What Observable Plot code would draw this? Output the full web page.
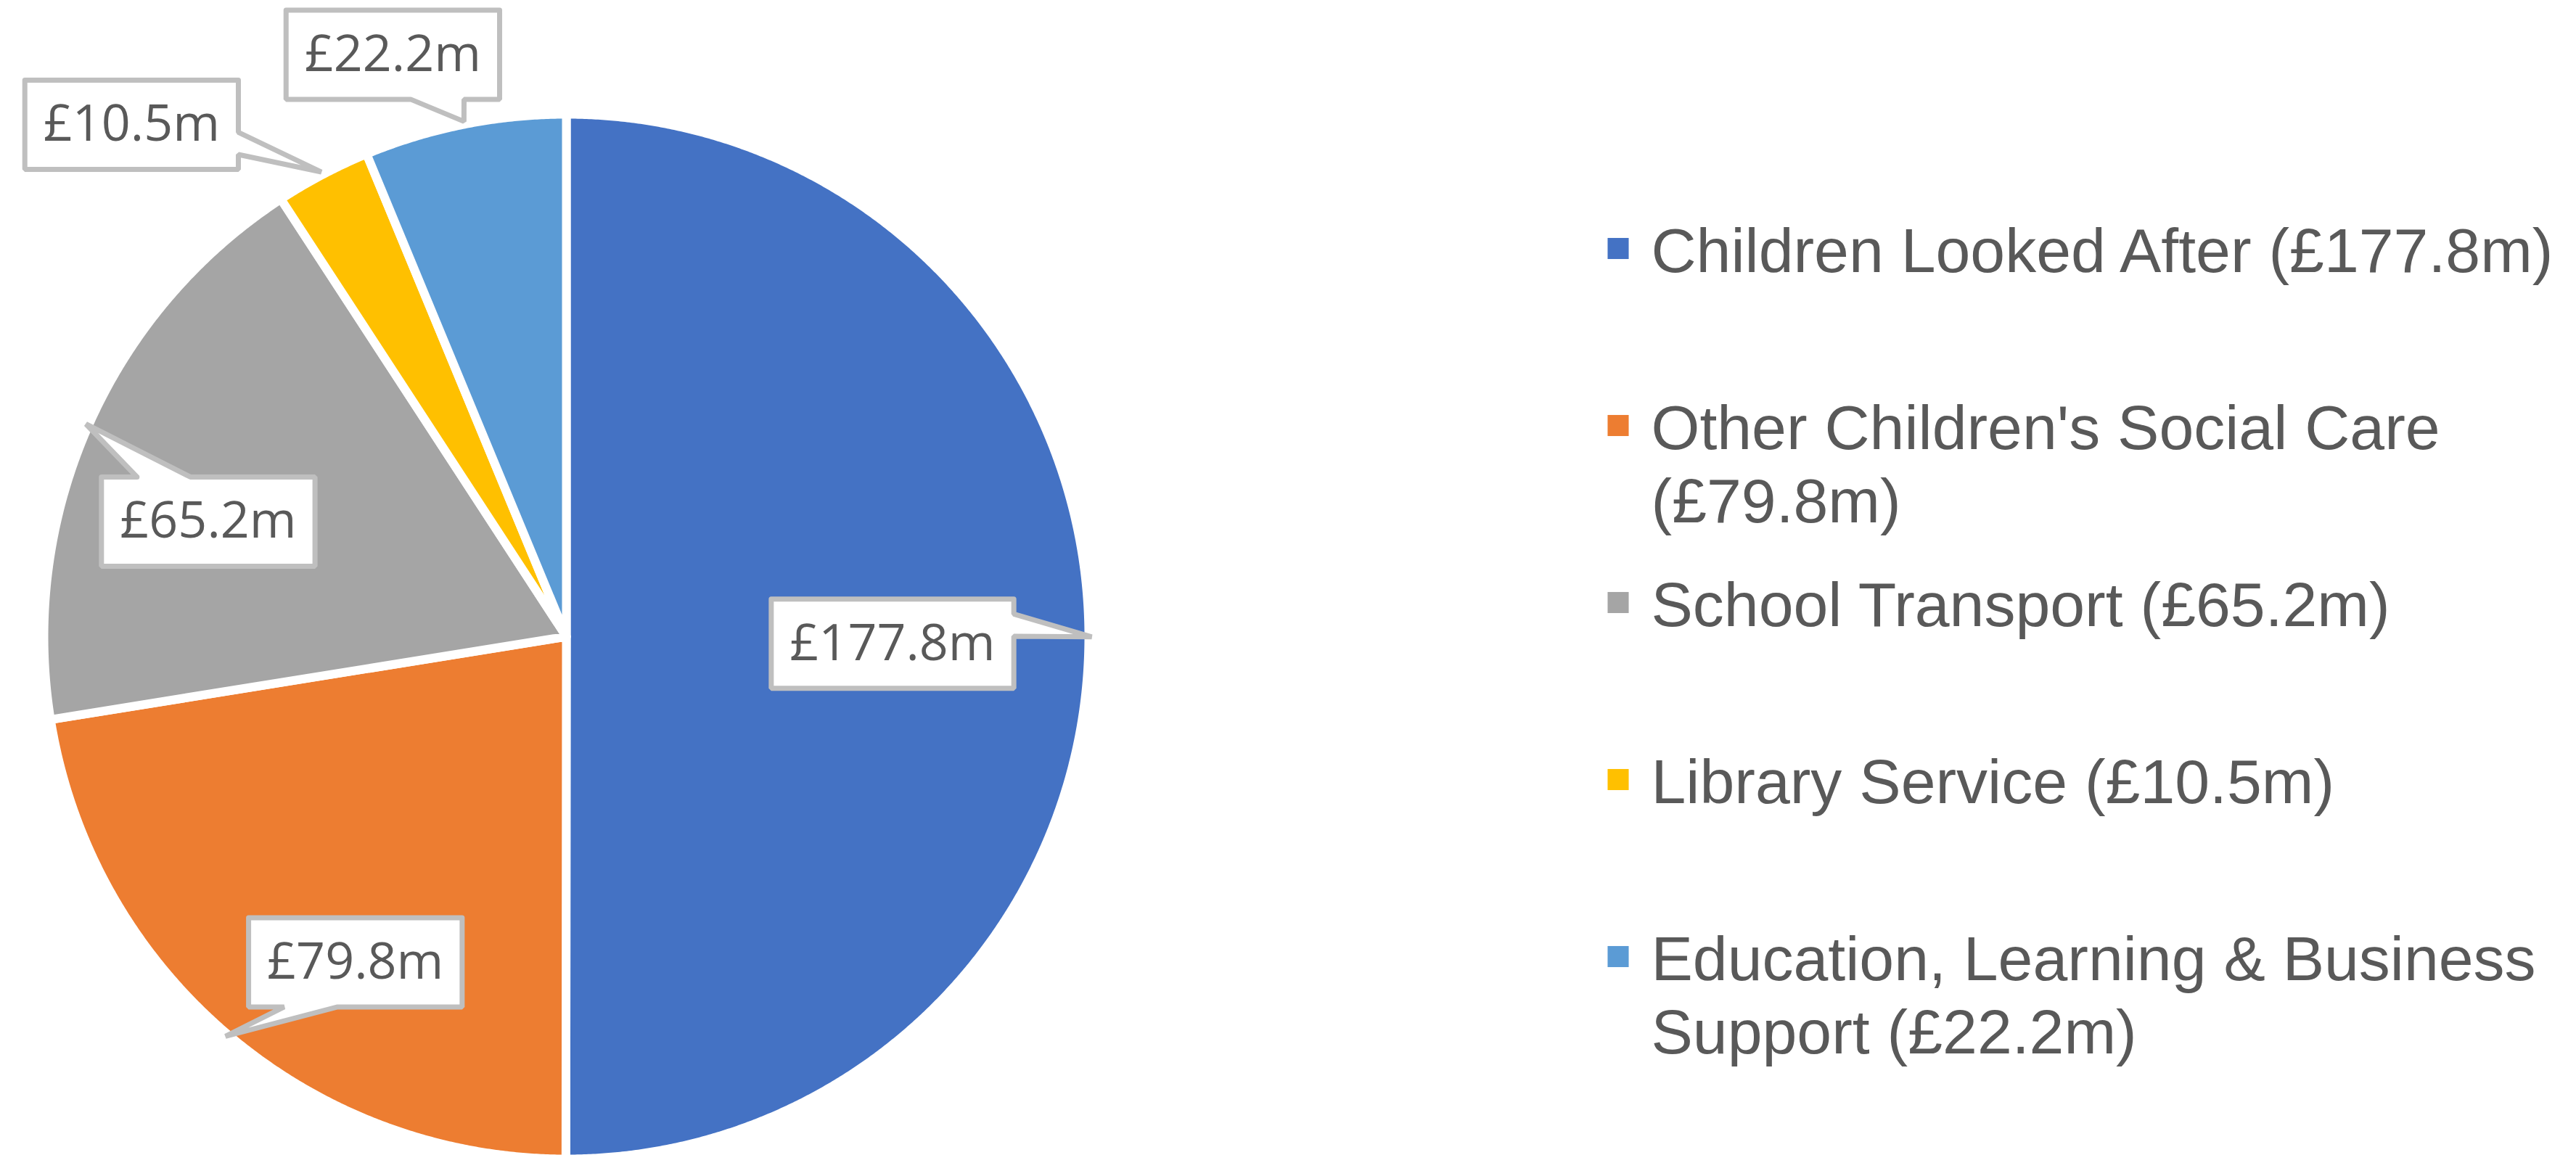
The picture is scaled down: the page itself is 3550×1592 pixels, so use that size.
<!DOCTYPE html>
<html><head><meta charset="utf-8">
<script src="https://cdn.jsdelivr.net/npm/d3@7"></script>
<script src="https://cdn.jsdelivr.net/npm/@observablehq/plot@0.6"></script>
<style>
html,body{margin:0;padding:0;background:#fff;}
#chart{display:flex;width:3550px;height:1592px;overflow:hidden;}
#chart svg{display:block;flex:none;}
</style></head><body><div id="chart"></div>
<script>
// ---- data ----
const categories = ["Children Looked After", "Other Children's Social Care", "School Transport", "Library Service", "Education, Learning & Business Support"];
const values = [177.8, 79.8, 65.2, 10.5, 22.2];
const colors = ["#4472C4", "#ED7D31", "#A5A5A5", "#FFC000", "#5B9BD5"];

// ---- layout (not data) ----
const W = 3550, H = 1592, pieW = 2150;
const cx = 780, cy = 877, R = 720, tipR = 724;
const calloutOffsets = [[-274.5, 9.5], [179, -102], [168.5, 134.5], [-261.5, -65], [-98, -92]];
const labelFont = "'Open Sans'", legendFont = "'Liberation Sans', Arial";
const fmt = v => `£${v.toFixed(1)}m`;

const table = categories.map((c, i) => ({category: c, value: values[i]}));
const arcs = d3.pie().sort(null).value(d => d.value)(table);

// slice outlines from the pie angles
const slicePts = [];
arcs.forEach(a => {
  const c = a.data.category;
  slicePts.push({category: c, x: 0, y: 0});
  const n = Math.max(2, Math.ceil((a.endAngle - a.startAngle) / (Math.PI / 720)));
  for (let k = 0; k <= n; ++k) {
    const t = a.startAngle + (a.endAngle - a.startAngle) * k / n;
    slicePts.push({category: c, x: R * Math.sin(t), y: -R * Math.cos(t)});
  }
  slicePts.push({category: c, x: 0, y: 0});
});

// callouts
const ctx = document.createElement("canvas").getContext("2d");
ctx.font = `70px ${labelFont}`;
const callPts = [], callText = [];
arcs.forEach((a, i) => {
  const mid = (a.startAngle + a.endAngle) / 2;
  const tx = tipR * Math.sin(mid), ty = -tipR * Math.cos(mid);
  const label = fmt(a.data.value);
  const w = ctx.measureText(label).width + 51, h = 123;
  const bx = tx + calloutOffsets[i][0], by = ty + calloutOffsets[i][1];
  const L = bx - w / 2, Rr = bx + w / 2, T = by - h / 2, B = by + h / 2;
  const dx = (tx - bx) / w, dy = (ty - by) / h;
  let pts;
  if (Math.abs(dx) > Math.abs(dy)) {
    const y1 = ty < by ? T + h * 2 / 12 : T + h * 7 / 12, y2 = ty < by ? T + h * 5 / 12 : T + h * 10 / 12;
    if (dx > 0) pts = [[L, T], [Rr, T], [Rr, y1], [tx, ty], [Rr, y2], [Rr, B], [L, B], [L, T]];
    else pts = [[L, T], [Rr, T], [Rr, B], [L, B], [L, y2], [tx, ty], [L, y1], [L, T]];
  } else {
    const x1 = tx < bx ? L + w * 2 / 12 : L + w * 7 / 12, x2 = tx < bx ? L + w * 5 / 12 : L + w * 10 / 12;
    if (dy > 0) pts = [[L, T], [Rr, T], [Rr, B], [x2, B], [tx, ty], [x1, B], [L, B], [L, T]];
    else pts = [[L, T], [x1, T], [tx, ty], [x2, T], [Rr, T], [Rr, B], [L, B], [L, T]];
  }
  pts.push(pts[1]);
  pts.forEach(p => callPts.push({label, x: p[0], y: p[1]}));
  callText.push({label, x: bx, y: by});
});

const pie = Plot.plot({
  width: pieW, height: H, margin: 0,
  x: {domain: [-cx, pieW - cx], range: [0, pieW], axis: null},
  y: {domain: [-cy, H - cy], range: [0, H], axis: null},
  color: {domain: categories, range: colors},
  marks: [
    Plot.line(slicePts, {x: "x", y: "y", z: "category", fill: "category", stroke: "white", strokeWidth: 12, strokeLinejoin: "round"}),
    Plot.line(callPts, {x: "x", y: "y", z: "label", fill: "white", stroke: "#BFBFBF", strokeWidth: 7, strokeLinejoin: "miter"}),
    Plot.text(callText, {x: "x", y: "y", text: "label", fontSize: 70, fontFamily: labelFont, fill: "#595959"})
  ]
});

// legend
const lctx = document.createElement("canvas").getContext("2d");
lctx.font = `86px ${legendFont}`;
function wrap(text, maxW) {
  const words = text.split(" "), lines = [];
  let cur = "";
  for (const wd of words) {
    const t = cur ? cur + " " + wd : wd;
    if (cur && lctx.measureText(t).width > maxW) { lines.push(cur); cur = wd; }
    else cur = t;
  }
  lines.push(cur);
  return lines.join("\n");
}
const legendData = categories.map((c, i) => ({category: c, label: wrap(`${c} (${fmt(values[i])})`, 1265)}));

const legend = Plot.plot({
  width: W - pieW, height: H, margin: 0,
  x: {domain: [0, W - pieW], range: [0, W - pieW], axis: null},
  y: {type: "band", domain: categories, range: [220, 1440], padding: 0, axis: null},
  color: {domain: categories, range: colors},
  marks: [
    Plot.dot(legendData, {x: () => 79.5, y: "category", symbol: "square", r: 16.4, fill: "category"}),
    Plot.text(legendData, {x: () => 125, y: "category", text: "label", textAnchor: "start", lineAnchor: "top", dy: -39, lineHeight: 1.17, fontSize: 86, fontFamily: legendFont, fill: "#595959"})
  ]
});

const root = document.getElementById("chart");
root.appendChild(pie);
root.appendChild(legend);
</script>
</body></html>
